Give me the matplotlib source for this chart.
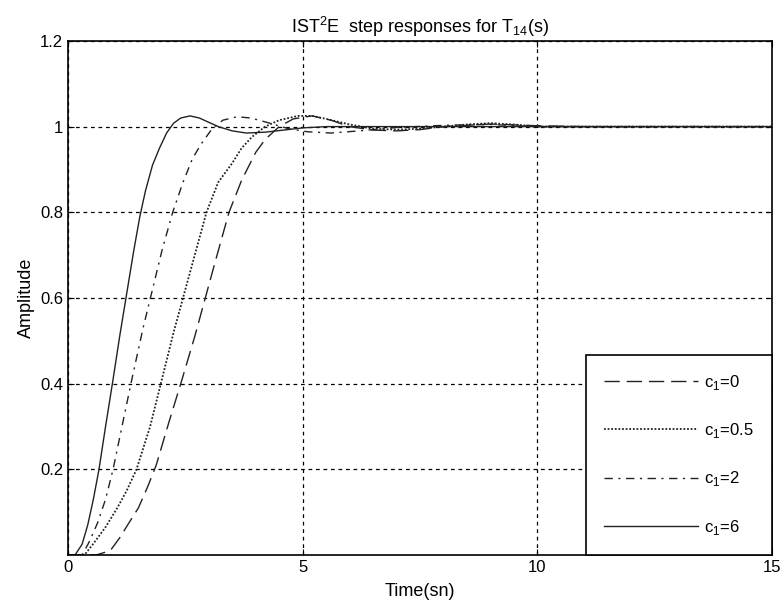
import matplotlib
matplotlib.use("Agg")
import matplotlib.pyplot as plt

# step responses (time in s, amplitude)
t_c0 = [0, 0.6, 0.9, 1.1, 1.31, 1.5, 1.7, 1.88, 2.15, 2.43, 2.7, 2.9, 3.15, 3.43, 3.7, 4.0, 4.2, 4.5,
        4.8, 5.2, 5.6, 6.0, 6.5, 7.0, 7.5, 8.0, 9.0, 10.0, 11.0, 15]
y_c0 = [0, 0, 0.01, 0.04, 0.077, 0.11, 0.16, 0.21, 0.31, 0.41, 0.51, 0.59, 0.69, 0.8, 0.875, 0.94, 0.97, 1.0,
        1.018, 1.025, 1.015, 1.0, 0.992, 0.99, 0.993, 1.0, 1.006, 1.002, 1.0, 1.0]

t_c05 = [0, 0.35, 0.53, 0.8, 1.05, 1.25, 1.46, 1.75, 2.0, 2.25, 2.5, 2.75, 2.95, 3.2, 3.5, 3.7, 3.92, 4.2, 4.5,
         4.9, 5.2, 5.5, 6.0, 6.5, 7.0, 7.5, 8.0, 8.5, 9.0, 9.5, 10.0, 11.0, 15]
y_c05 = [0, 0, 0.025, 0.065, 0.11, 0.15, 0.2, 0.3, 0.41, 0.52, 0.62, 0.72, 0.8, 0.87, 0.915, 0.95, 0.976, 1.0, 1.015,
         1.025, 1.025, 1.018, 1.005, 0.995, 0.993, 0.995, 1.0, 1.005, 1.008, 1.005, 1.0, 1.0, 1.0]

t_c2 = [0, 0.3, 0.45, 0.63, 0.8, 0.96, 1.15, 1.36, 1.6, 1.8, 2.0, 2.23, 2.45, 2.65, 2.84, 3.07, 3.3, 3.6,
        3.9, 4.3, 4.7, 5.1, 5.6, 6.2, 7.0, 8.0, 9.0, 10.0, 11.0, 15]
y_c2 = [0, 0, 0.03, 0.075, 0.13, 0.2, 0.3, 0.41, 0.53, 0.62, 0.71, 0.8, 0.87, 0.925, 0.96, 0.995, 1.015, 1.023,
        1.02, 1.008, 0.995, 0.988, 0.985, 0.99, 0.998, 1.003, 1.005, 1.0, 1.0, 1.0]

t_c6 = [0, 0.15, 0.3, 0.42, 0.54, 0.66, 0.8, 0.96, 1.1, 1.25, 1.4, 1.53, 1.65, 1.8, 1.95, 2.1, 2.25, 2.4, 2.6,
        2.8, 3.0, 3.2, 3.5, 3.8, 4.2, 4.6, 5.0, 5.5, 6.5, 8.0, 15]
y_c6 = [0, 0, 0.025, 0.07, 0.13, 0.2, 0.3, 0.41, 0.51, 0.61, 0.71, 0.79, 0.85, 0.91, 0.95, 0.985, 1.008, 1.02, 1.025,
        1.02, 1.01, 1.0, 0.99, 0.985, 0.987, 0.992, 0.997, 1.0, 1.0, 1.0, 1.0]

labels = [r"$\mathrm{c}_1$=0", r"$\mathrm{c}_1$=0.5", r"$\mathrm{c}_1$=2", r"$\mathrm{c}_1$=6"]
x_ticks = [0, 5, 10, 15]
y_ticks = [0.2, 0.4, 0.6, 0.8, 1.0, 1.2]
y_tick_labels = ["0.2", "0.4", "0.6", "0.8", "1", "1.2"]

plt.rcParams['font.family'] = ['Liberation Sans Narrow', 'Liberation Sans', 'DejaVu Sans']
plt.rcParams['mathtext.fontset'] = 'custom'
plt.rcParams['mathtext.rm'] = 'Liberation Sans'

fig = plt.figure(figsize=(7.8, 6.11), dpi=100)
ax = fig.add_axes([0.0872, 0.0917, 0.9026, 0.8413])

ax.plot(t_c0, y_c0, color="#222222", lw=1.0, linestyle=(0, (11, 5)), label=labels[0])
ax.plot(t_c05, y_c05, color="#222222", lw=1.3, linestyle=(0, (1, 1)), label=labels[1])
ax.plot(t_c2, y_c2, color="#222222", lw=1.0, linestyle=(0, (6, 4, 1.5, 4)), label=labels[2])
ax.plot(t_c6, y_c6, color="#222222", lw=1.0, linestyle="-", label=labels[3])

ax.set_xlim(0, 15)
ax.set_ylim(0, 1.2)
ax.set_xticks(x_ticks)
ax.set_yticks(y_ticks)
ax.set_yticklabels(y_tick_labels)
ax.tick_params(direction="in", top=True, right=True, labelsize=12, length=4)
ax.grid(True, color="black", linestyle=(0, (3, 3)), linewidth=0.9)

for s in ax.spines.values():
    s.set_linewidth(1.2)

ax.set_title("IST$^2$E  step responses for T$_{14}$(s)", fontsize=13, pad=6)
ax.set_xlabel("Time(sn)", fontsize=13, labelpad=6)
ax.set_ylabel("Amplitude", fontsize=13, labelpad=4)

leg = ax.legend(loc="lower right", bbox_to_anchor=(1.0, 0.0), borderaxespad=0,
                fancybox=False, framealpha=1, edgecolor="black", fontsize=12,
                handlelength=5.6, labelspacing=1.75, borderpad=1.1, handletextpad=0.4)
leg.get_frame().set_linewidth(1.2)

fig.savefig("out.png", dpi=100)
